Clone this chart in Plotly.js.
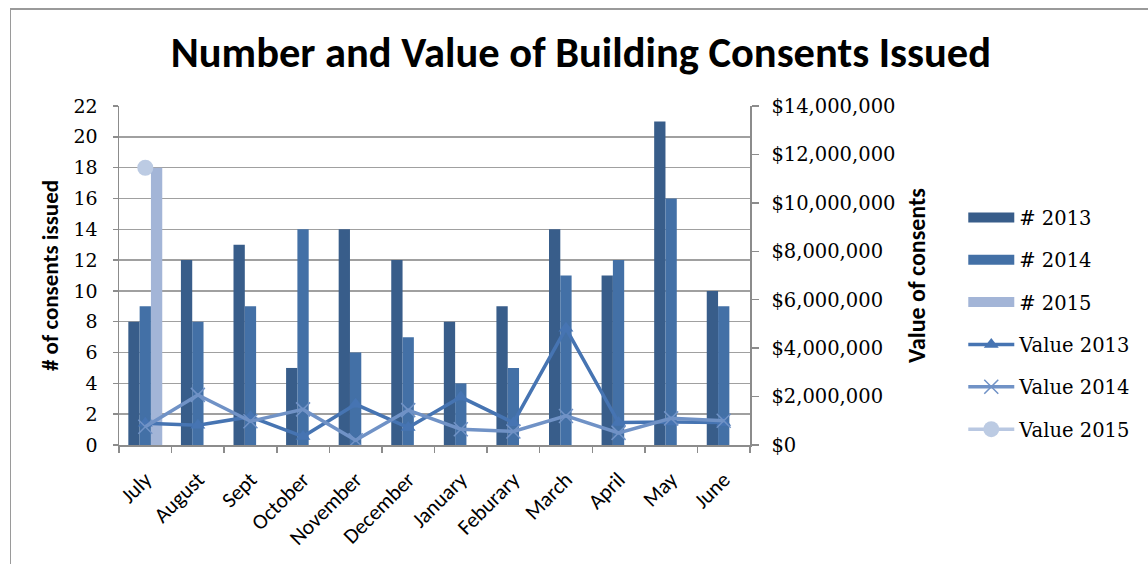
<!DOCTYPE html>
<html>
<head>
<meta charset="utf-8">
<script src="https://cdn.plot.ly/plotly-3.0.1.min.js"></script>
<style>
  html, body { margin: 0; padding: 0; background: #ffffff; }
  #wrap { position: relative; width: 1148px; height: 564px; overflow: hidden; }
  #frame { position: absolute; left: 10px; top: 8px; width: 1300px; height: 700px;
           border-top: 2px solid #9a9a9a; border-left: 1px solid #9a9a9a; pointer-events: none; }
  #chart { position: absolute; left: 0; top: 0; width: 1148px; height: 564px; }
</style>
</head>
<body>
<div id="wrap">
  <div id="chart"></div>
  <div id="frame"></div>
</div>
<script>
// ---- data ----
const months = ["July", "August", "Sept", "October", "November", "December",
                "January", "Feburary", "March", "April", "May", "June"];

const count2013 = [8, 12, 13, 5, 14, 12, 8, 9, 14, 11, 21, 10];
const count2014 = [9, 8, 9, 14, 6, 7, 4, 5, 11, 12, 16, 9];
const count2015 = [18, null, null, null, null, null, null, null, null, null, null, null];

const value2013 = [900000, 820000, 1170000, 350000, 1680000, 720000, 1980000, 920000, 4820000, 930000, 950000, 930000];
const value2014 = [750000, 2070000, 980000, 1470000, 200000, 1440000, 650000, 560000, 1200000, 500000, 1100000, 1000000];
const value2015 = [11450000, null, null, null, null, null, null, null, null, null, null, null];

const seriesNames = ["# 2013", "# 2014", "# 2015", "Value 2013", "Value 2014", "Value 2015"];

// ---- styling ----
const sansFont = "Carlito, 'Liberation Sans Narrow', 'Open Sans', sans-serif";
const serifFont = "'DejaVu Serif', 'Liberation Serif', serif";
const gridCol = "#a0a0a0";
const axisCol = "#8c8c8c";
const barCols = ["#385d8a", "#4370a6", "#a3b5d7"];
const barCounts = [count2013, count2014, count2015];

const traces = [];
// bars (legend entries drawn by wide-swatch companions below)
barCounts.forEach((vals, i) => {
  traces.push({ type: "bar", name: seriesNames[i], x: months, y: vals, yaxis: "y",
    marker: { color: barCols[i] }, showlegend: false, legendgroup: "g" + i });
});
// wide rectangular legend swatches for the bar series (no data drawn)
barCounts.forEach((vals, i) => {
  traces.push({ type: "scatter", mode: "lines", name: seriesNames[i], x: [months[0]], y: [null],
    yaxis: "y", line: { color: barCols[i], width: 14 }, legendgroup: "g" + i,
    showlegend: true, hoverinfo: "skip" });
});
traces.push(
  { type: "scatter", mode: "lines+markers", name: seriesNames[3], x: months, y: value2013, yaxis: "y2",
    line: { color: "#4674b2", width: 3.5 },
    marker: { symbol: "triangle-up", size: 13, color: "#4674b2" }, legendgroup: "g3" },
  { type: "scatter", mode: "lines+markers", name: seriesNames[4], x: months, y: value2014, yaxis: "y2",
    line: { color: "#7092c6", width: 3.5 },
    marker: { symbol: "x-thin-open", size: 14, color: "#7092c6", line: { color: "#7092c6", width: 1.5 } }, legendgroup: "g4" },
  { type: "scatter", mode: "lines+markers", name: seriesNames[5], x: months, y: value2015, yaxis: "y2",
    line: { color: "#b9c8e2", width: 3.5 },
    marker: { symbol: "circle", size: 16, color: "#bccbe3" }, legendgroup: "g5" }
);

const layout = {
  width: 1148, height: 564,
  paper_bgcolor: "rgba(0,0,0,0)", plot_bgcolor: "rgba(0,0,0,0)",
  margin: { l: 119, r: 396, t: 106, b: 119, pad: 0 },
  title: { text: "<b>Number and Value of Building Consents Issued</b>",
           font: { family: sansFont, size: 42.5, color: "#000000" },
           x: 0.506, xanchor: "center", y: 0.908, yanchor: "middle" },
  barmode: "group", bargap: 0.355, bargroupgap: 0,
  showlegend: true,
  legend: { x: 1.338, y: 0.728, xanchor: "left", yanchor: "top",
            font: { family: serifFont, size: 19.5, color: "#000000" },
            traceorder: "grouped", tracegroupgap: 14, itemwidth: 46,
            bgcolor: "rgba(0,0,0,0)" },
  xaxis: {
    type: "category", range: [-0.5, months.length - 0.5], autorange: false,
    tickangle: -45, tickson: "boundaries",
    ticks: "outside", ticklen: 6, tickcolor: axisCol, tickwidth: 1.5, ticklabelstandoff: 12,
    showline: true, linecolor: axisCol, linewidth: 1.5,
    showgrid: false, zeroline: false,
    tickfont: { family: sansFont, size: 21.5, color: "#000000" }
  },
  yaxis: {
    range: [0, 22], dtick: 2, tick0: 0,
    ticks: "outside", ticklen: 5, tickcolor: axisCol, tickwidth: 1.5, ticklabelstandoff: 11,
    showline: true, linecolor: axisCol, linewidth: 1.5,
    showgrid: true, gridcolor: gridCol, gridwidth: 1.5, zeroline: false,
    tickfont: { family: serifFont, size: 19, color: "#000000" },
    title: { text: "<b># of consents issued</b>", standoff: 8,
             font: { family: sansFont, size: 23, color: "#000000" } }
  },
  yaxis2: {
    overlaying: "y", side: "right", range: [0, 14000000], dtick: 2000000, tick0: 0,
    tickprefix: "$", tickformat: ",d",
    ticks: "outside", ticklen: 7, tickcolor: axisCol, tickwidth: 1.5, ticklabelstandoff: 9,
    showline: true, linecolor: axisCol, linewidth: 1.5,
    showgrid: false, zeroline: false,
    tickfont: { family: serifFont, size: 19.5, color: "#000000" },
    title: { text: "<b>Value of consents</b>", standoff: 13,
             font: { family: sansFont, size: 24, color: "#000000" } }
  }
};

Plotly.newPlot("chart", traces, layout, { staticPlot: true, displayModeBar: false });
</script>
</body>
</html>
